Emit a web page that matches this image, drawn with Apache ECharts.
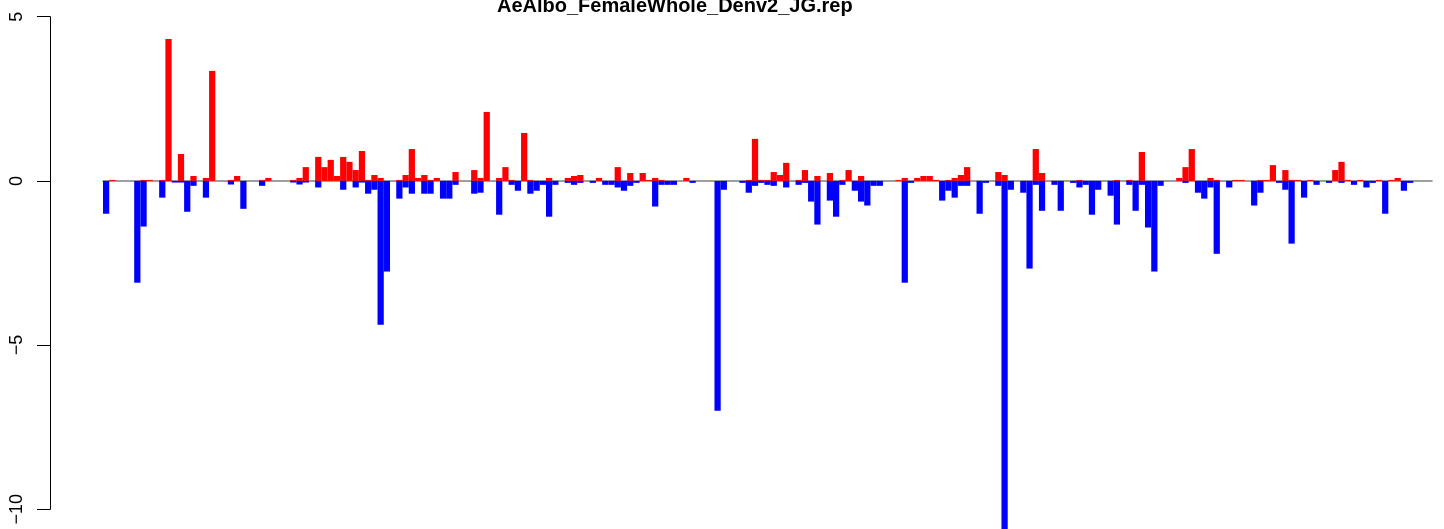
<!DOCTYPE html>
<html>
<head>
<meta charset="utf-8">
<script src="https://cdn.jsdelivr.net/npm/echarts@6/dist/echarts.min.js"></script>
<style>
html,body{margin:0;padding:0;background:#fff;}
#chart{width:1444px;height:529px;}
</style>
</head>
<body>
<div id="chart"></div>
<script>
var titleText = "AeAlbo_FemaleWhole_Denv2_JG.rep";
var yTicks = [-10, -5, 0, 5];

var posValues = [
0,0.03,0,0,0,0,0.03,0.03,0,0.03,
4.32,0,0.82,0,0.15,0,0.09,3.35,0,0,
0.03,0.15,0,0,0,0.03,0.09,0,0,0,
0.03,0.09,0.42,0,0.73,0.42,0.64,0.15,0.73,0.58,
0.33,0.91,0.03,0.18,0.09,0,0,0.03,0.18,0.97,
0.09,0.18,0.03,0.09,0,0,0.27,0,0,0.33,
0.09,2.1,0,0.09,0.42,0.03,0,1.46,0.03,0,
0,0.09,0,0,0.09,0.15,0.18,0,0,0.09,
0,0,0.42,0,0.24,0,0.24,0.03,0.09,0.03,
0,0,0,0.09,0,0,0,0,0,0,
0,0,0,0.03,1.28,0.03,0.03,0.27,0.18,0.55,
0,0.03,0.33,0,0.15,0,0.24,0,0.03,0.33,
0,0.15,0,0,0,0,0,0.03,0.09,0,
0.09,0.15,0.15,0.03,0,0.03,0.09,0.18,0.42,0,
0,0,0,0.27,0.18,0,0,0,0,0.97,
0.24,0,0,0,0,0,0.03,0,0,0,
0,0,0.03,0,0.03,0,0.88,0,0,0,
0,0,0.09,0.42,0.97,0,0,0.09,0.03,0,
0,0.03,0.03,0,0,0.03,0.03,0.48,0,0.33,
0.03,0.03,0,0.03,0,0,0,0.33,0.58,0.03,
0,0.03,0,0,0.03,0,0.03,0.09,0,0,
0,0,0
];

var negValues = [
-1.0,0,0,0,0,-3.1,-1.39,0,0,-0.51,
0,-0.05,-0.05,-0.94,-0.15,0,-0.51,0,0,0,
-0.11,0,-0.85,0,0,-0.15,0,0,0,0,
-0.05,-0.11,-0.05,0,-0.2,0,0,0,-0.27,0,
-0.2,-0.05,-0.39,-0.27,-4.38,-2.76,0,-0.54,-0.2,-0.39,
0,-0.39,-0.39,0,-0.54,-0.54,-0.12,0,0,-0.39,
-0.36,0,0,-1.03,0,-0.12,-0.3,0,-0.39,-0.3,
-0.12,-1.09,-0.12,0,-0.06,-0.12,-0.06,0,-0.06,0,
-0.12,-0.12,-0.2,-0.3,-0.15,-0.06,0,0,-0.78,-0.12,
-0.12,-0.12,0,0,-0.06,0,0,0,-7.0,-0.27,
0,0,-0.06,-0.36,-0.15,-0.06,-0.12,-0.15,0,-0.2,
0,-0.12,-0.06,-0.63,-1.33,0,-0.6,-1.09,-0.12,0,
-0.3,-0.63,-0.75,-0.15,-0.15,0,0,0,-3.1,-0.06,
0,0,0,0,-0.6,-0.3,-0.51,-0.15,-0.15,0,
-1.0,-0.06,0,-0.15,-10.65,-0.27,0,-0.36,-2.67,-0.12,
-0.91,0,-0.12,-0.91,0,-0.06,-0.2,-0.12,-1.03,-0.27,
0,-0.45,-1.33,0,-0.12,-0.91,-0.12,-1.42,-2.76,-0.15,
0,0,0,-0.06,0,-0.36,-0.54,-0.2,-2.22,0,
-0.2,0,0,0,-0.75,-0.36,0,0,-0.06,-0.27,
-1.91,0,-0.51,0,-0.12,0,-0.06,0,-0.06,0,
-0.12,0,-0.2,-0.06,0,-1.0,0,0,-0.3,-0.06,
0,0,0
];

var categories = [];
for (var i = 0; i < posValues.length; i++) categories.push(String(i + 1));

var chart = echarts.init(document.getElementById('chart'), null, {renderer: 'canvas'});
chart.setOption({
  animation: false,
  backgroundColor: '#ffffff',
  title: {
    text: titleText,
    left: 497,
    top: -4,
    padding: 0,
    textStyle: {fontFamily: 'Liberation Sans', fontSize: 20, fontWeight: 'bold', color: '#000'}
  },
  grid: {left: 103, right: 12, top: 16.7, height: 492.6, containLabel: false},
  xAxis: {
    type: 'category',
    data: categories,
    boundaryGap: true,
    axisLine: {show: true, onZero: true, lineStyle: {color: '#808080', width: 1.6}},
    axisTick: {show: false},
    axisLabel: {show: false},
    splitLine: {show: false}
  },
  yAxis: {
    type: 'value',
    min: -10,
    max: 5,
    interval: 5,
    offset: 53,
    axisLine: {show: true, lineStyle: {color: '#000', width: 1}},
    axisTick: {show: true, length: 13, inside: false, lineStyle: {color: '#000', width: 1}},
    axisLabel: {
      show: true, rotate: 90, margin: 24,
      fontFamily: 'Liberation Sans', fontSize: 18, color: '#000',
      formatter: function (v) { return String(v).replace('-', '\u2212'); }
    },
    splitLine: {show: false}
  },
  series: [
    {type: 'bar', data: posValues, itemStyle: {color: '#ff0000'}, barGap: '-100%', barCategoryGap: '0%', clip: false},
    {type: 'bar', data: negValues, itemStyle: {color: '#0000ff'}, barGap: '-100%', barCategoryGap: '0%', clip: false}
  ]
});
</script>
</body>
</html>
